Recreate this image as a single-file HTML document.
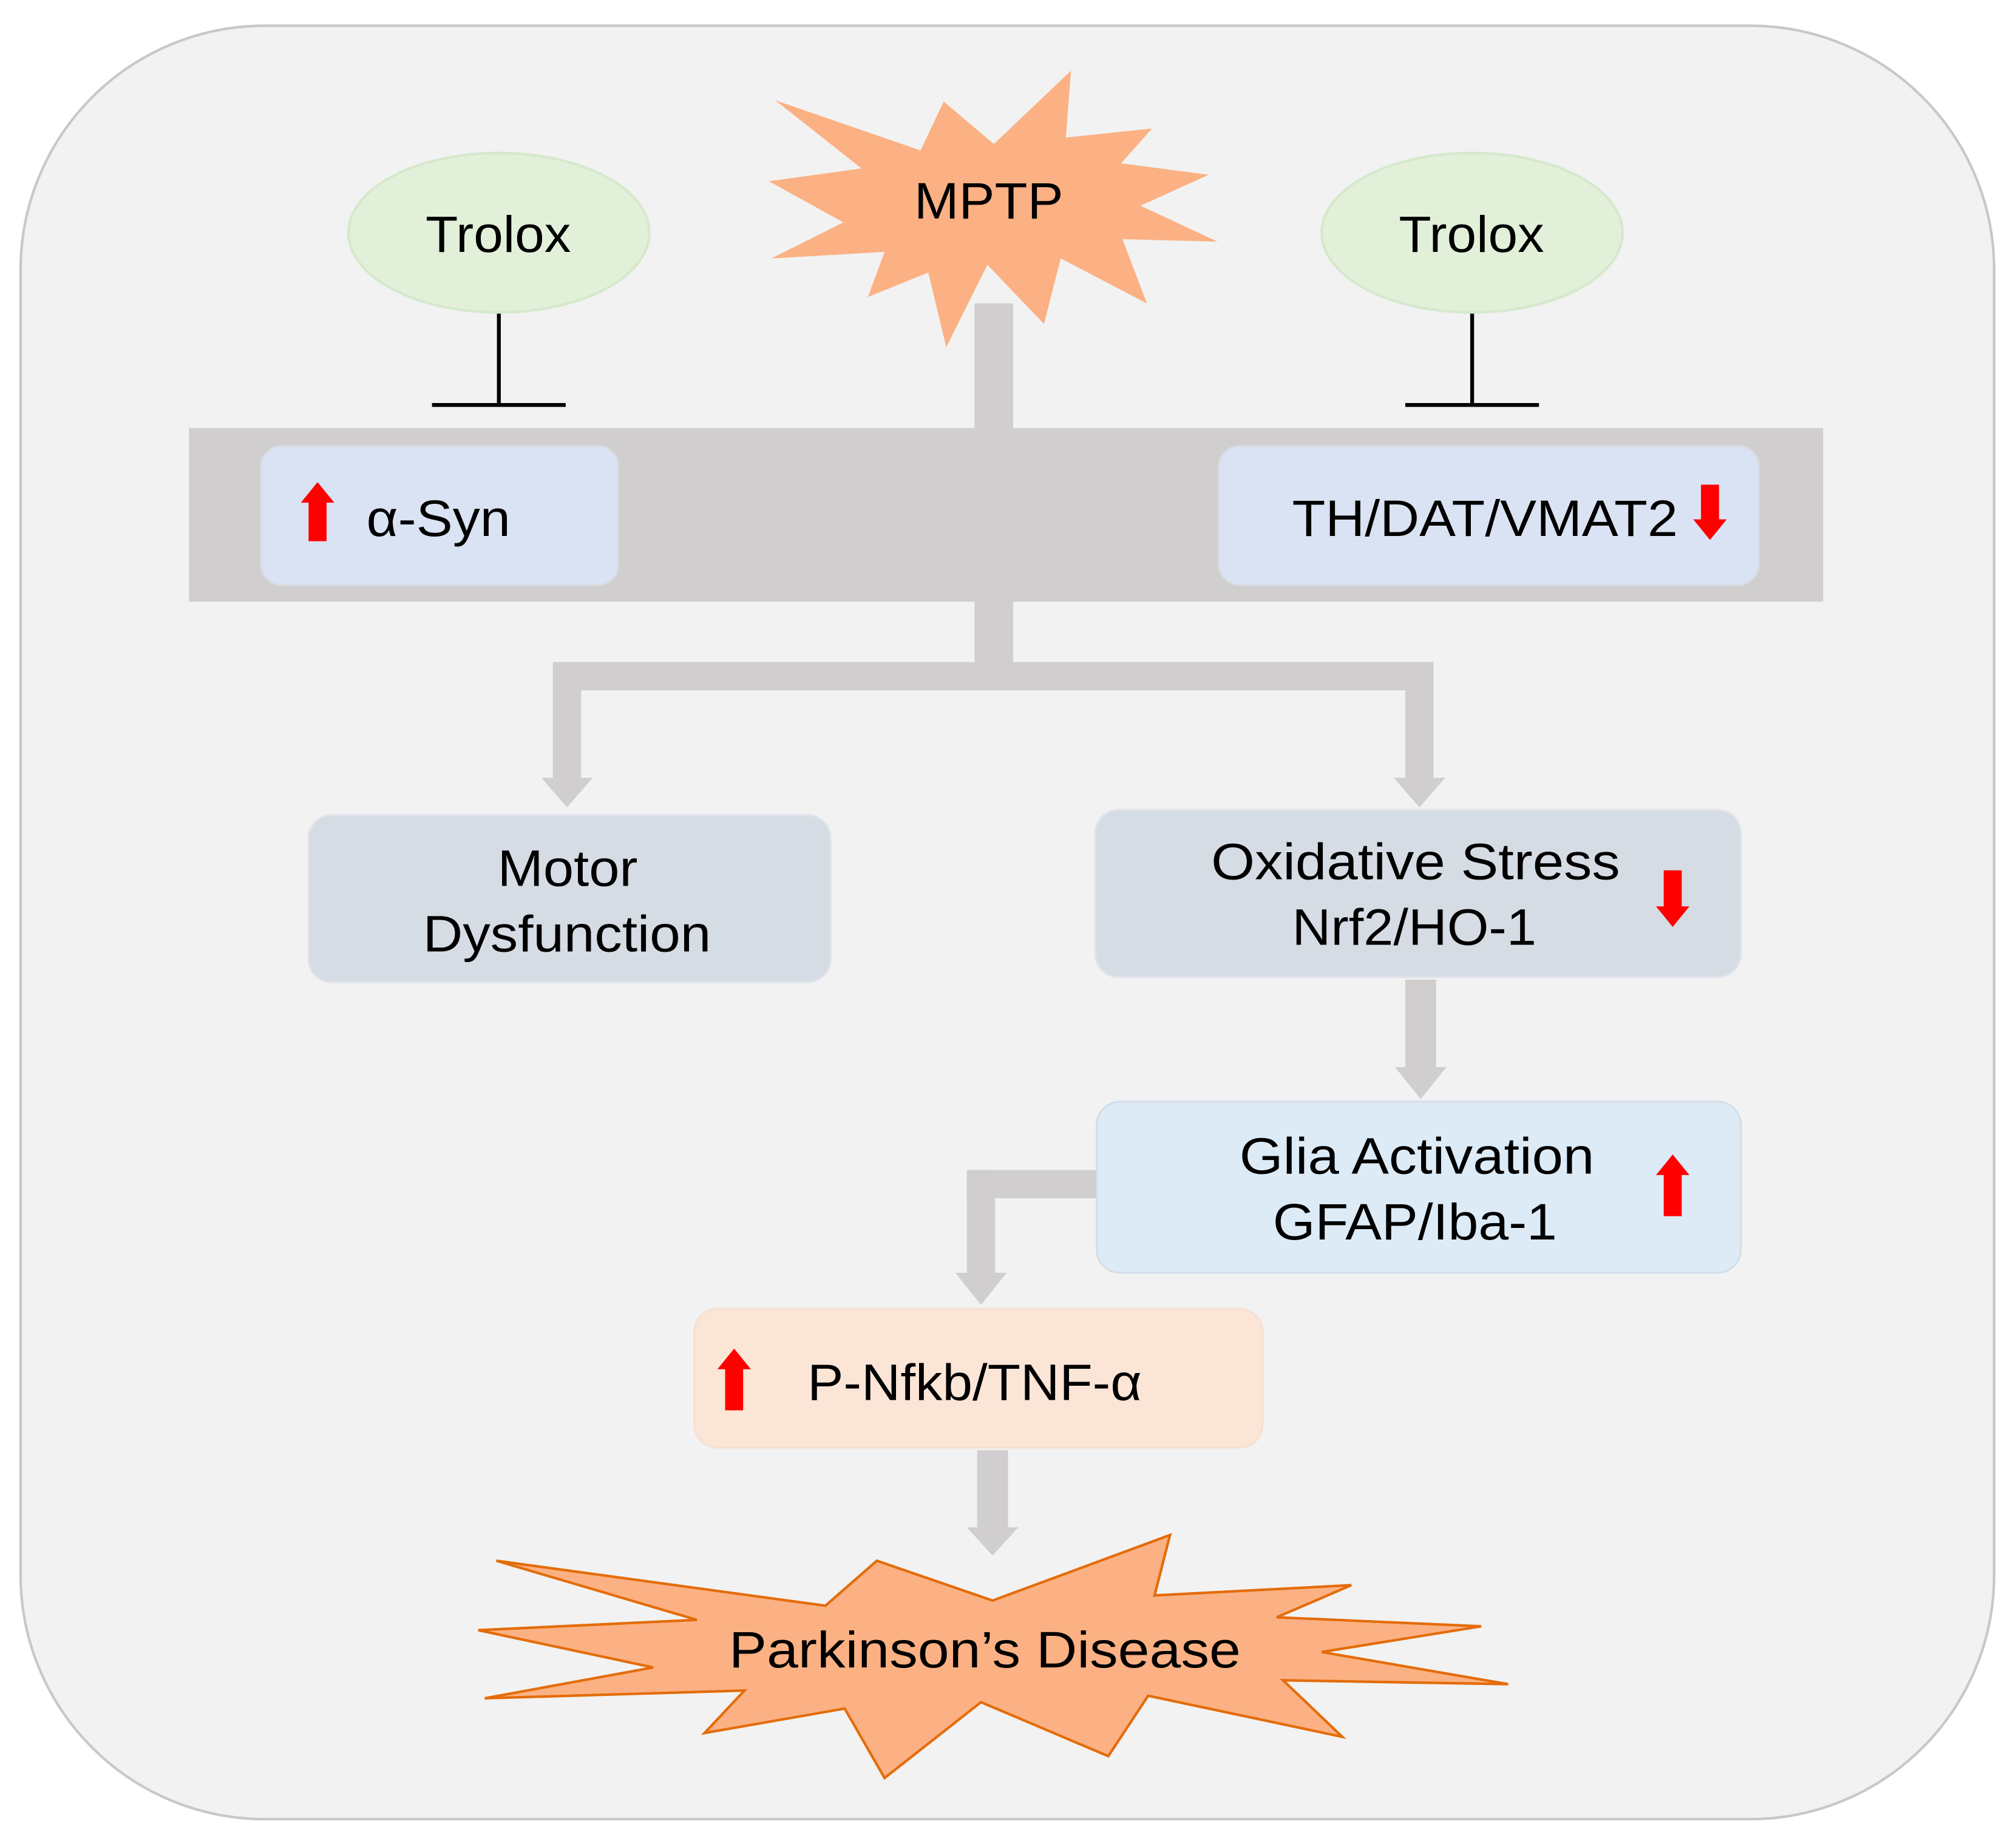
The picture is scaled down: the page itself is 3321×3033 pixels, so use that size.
<!DOCTYPE html>
<html><head><meta charset="utf-8"><style>html,body{margin:0;padding:0;background:#fff}svg{display:block}text{font-family:"Liberation Sans",sans-serif;fill:#000}</style></head>
<body>
<svg width="3321" height="3033" viewBox="0 0 1568 1432" preserveAspectRatio="none" xmlns="http://www.w3.org/2000/svg">
<rect x="0" y="0" width="1568" height="1432" fill="#fff"/>
<rect x="16" y="20" width="1535" height="1395" rx="190" fill="#f2f2f2" stroke="#c8c8c8" stroke-width="2"/>

<!-- MPTP star -->
<polygon fill="#fbb183" points="603,78 716,117 734,79 773,112 833,55 829,107 896,100 872,127 940,136 887,160 947,188 873,186 892,236 825,201 812,252 768,206 736,270 722,212 675,231 688,196 600,201 656,173 598,141 670,131"/>
<text x="711" y="170" font-size="40" textLength="116" lengthAdjust="spacingAndGlyphs">MPTP</text>

<!-- Trolox -->
<ellipse cx="388" cy="181" rx="117" ry="62" fill="#e2f0d9" stroke="#d5e8cc" stroke-width="2"/>
<text x="331" y="196" font-size="40" textLength="113" lengthAdjust="spacingAndGlyphs">Trolox</text>
<ellipse cx="1145" cy="181" rx="117" ry="62" fill="#e2f0d9" stroke="#d5e8cc" stroke-width="2"/>
<text x="1088" y="196" font-size="40" textLength="113" lengthAdjust="spacingAndGlyphs">Trolox</text>
<g stroke="#000" stroke-width="3">
<line x1="388" y1="244" x2="388" y2="315"/><line x1="336" y1="315" x2="440" y2="315"/>
<line x1="1145" y1="244" x2="1145" y2="315"/><line x1="1093" y1="315" x2="1197" y2="315"/>
</g>

<!-- connectors -->
<g fill="#d0cece">
<rect x="758" y="236" width="30" height="100"/>
<rect x="147" y="333" width="1271" height="135"/>
<rect x="758" y="466" width="30" height="50"/>
<rect x="430" y="515" width="685" height="22"/>
<rect x="430" y="515" width="22" height="92"/>
<polygon points="421,605 461,605 441,628"/>
<rect x="1093" y="515" width="22" height="92"/>
<polygon points="1084,605 1124,605 1104,628"/>
<rect x="1093" y="762" width="24" height="70"/>
<polygon points="1085,830 1125,830 1105,855"/>
<rect x="752" y="910" width="102" height="22"/>
<rect x="752" y="910" width="22" height="82"/>
<polygon points="743,990 783,990 763,1015"/>
<rect x="760" y="1128" width="24" height="62"/>
<polygon points="752,1188 792,1188 772,1210"/>
</g>

<!-- boxes -->
<rect x="203" y="347" width="278" height="108" rx="16" fill="#dae3f3" stroke="#d8dce2" stroke-width="1.5"/>
<text x="285" y="417" font-size="40" textLength="112" lengthAdjust="spacingAndGlyphs">α-Syn</text>
<rect x="948" y="347" width="420" height="108" rx="16" fill="#dae3f3" stroke="#d8dce2" stroke-width="1.5"/>
<text x="1005" y="417" font-size="40" textLength="300" lengthAdjust="spacingAndGlyphs">TH/DAT/VMAT2</text>

<rect x="240" y="634" width="406" height="130" rx="18" fill="#d6dce4" stroke="#dfe3ea" stroke-width="1.5"/>
<text x="387" y="689" font-size="40" textLength="109" lengthAdjust="spacingAndGlyphs">Motor</text>
<text x="329" y="740" font-size="40" textLength="224" lengthAdjust="spacingAndGlyphs">Dysfunction</text>

<rect x="852" y="630" width="502" height="130" rx="18" fill="#d6dce4" stroke="#dfe3ea" stroke-width="1.5"/>
<text x="942" y="684" font-size="40" textLength="318" lengthAdjust="spacingAndGlyphs">Oxidative Stress</text>
<text x="1005" y="735" font-size="40" textLength="190" lengthAdjust="spacingAndGlyphs">Nrf2/HO-1</text>

<rect x="853" y="857" width="501" height="133" rx="18" fill="#ddebf7" stroke="#d3dee8" stroke-width="1.5"/>
<text x="964" y="913" font-size="40" textLength="276" lengthAdjust="spacingAndGlyphs">Glia Activation</text>
<text x="990" y="964" font-size="40" textLength="221" lengthAdjust="spacingAndGlyphs">GFAP/Iba-1</text>

<rect x="540" y="1018" width="442" height="108" rx="18" fill="#fbe5d6" stroke="#f6e0d0" stroke-width="1.5"/>
<text x="628" y="1089" font-size="40" textLength="260" lengthAdjust="spacingAndGlyphs">P-Nfkb/TNF-α</text>

<!-- red arrows -->
<g fill="#ff0000">
<polygon points="247,375 260,391 254,391 254,421 240,421 240,391 234,391"/>
<polygon points="1330,420 1343,404 1337,404 1337,377 1323,377 1323,404 1317,404"/>
<polygon points="1301,721 1314,705 1308,705 1308,677 1294,677 1294,705 1288,705"/>
<polygon points="1301,898 1314,914 1308,914 1308,946 1294,946 1294,914 1288,914"/>
<polygon points="571,1049 584,1065 578,1065 578,1097 564,1097 564,1065 558,1065"/>
</g>

<!-- Parkinson star -->
<polygon fill="#fbb183" stroke="#e46c0a" stroke-width="2" points="386,1214 642,1249 682,1214 772,1245 910,1194 898,1241 1051,1233 993,1258 1152,1265 1028,1285 1173,1310 998,1307 1044,1351 893,1319 862,1366 763,1324 688,1383 657,1329 548,1348 579,1315 377,1321 508,1297 372,1268 542,1260"/>
<text x="567" y="1297" font-size="40" textLength="398" lengthAdjust="spacingAndGlyphs">Parkinson’s Disease</text>
</svg>
</body></html>
